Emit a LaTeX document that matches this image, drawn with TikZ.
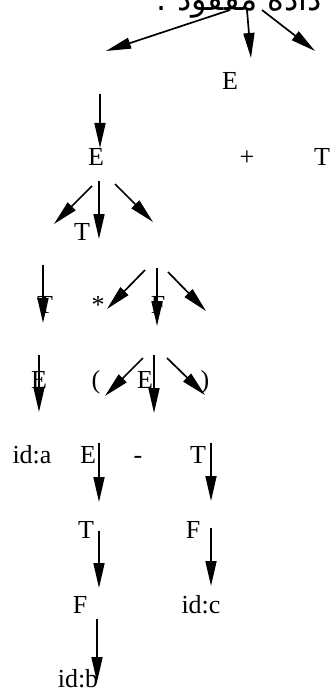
\documentclass[tikz,border=0pt]{standalone}
\usepackage{fontspec}
\setmainfont{Liberation Serif}
\newfontfamily\arabicfont[Script=Arabic]{DejaVu Sans}
\TeXXeTstate=1
\usetikzlibrary{arrows.meta}
\begin{document}
\begin{tikzpicture}[x=1pt,y=-1pt,
  lbl/.style={font=\fontsize{26}{30}\selectfont, inner sep=0pt, anchor=base},
  arr/.style={-{Triangle[length=25pt,width=11pt]}, line width=1.7pt}]
\useasboundingbox (0,0) rectangle (329,690);
% title (cut at the top)
\node[inner sep=0pt, anchor=base east, font=\fontsize{32}{36}\selectfont\arabicfont] (title) at (322,11) {\beginR داده مفقود .\endR};
% row 1
\node[lbl] (E1) at (230,90) {E};
% row 2
\node[lbl] (E2) at (96,165) {E};
\node[lbl] (plus) at (247,165) {+};
\node[lbl] (T1) at (322,165) {T};
% row 3
\node[lbl] (T2) at (82,240) {T};
% row 4
\node[lbl] (T3) at (45,313) {T};
\node[lbl] (star) at (98,313) {*};
\node[lbl] (F1) at (158,313) {F};
% row 5
\node[lbl] (E3) at (39,388) {E};
\node[lbl] (lp) at (96,388) {(};
\node[lbl] (E4) at (145,388) {E};
\node[lbl] (rp) at (205,388) {)};
% row 6
\node[lbl] (ida) at (32,463) {id:a};
\node[lbl] (E5) at (88,463) {E};
\node[lbl] (minus) at (138,463) {-};
\node[lbl] (T4) at (198,463) {T};
% row 7
\node[lbl] (T5) at (86,538) {T};
\node[lbl] (F2) at (193,538) {F};
% row 8
\node[lbl] (F3) at (80,613) {F};
\node[lbl] (idc) at (201,613) {id:c};
% row 9
\node[lbl] (idb) at (78,687) {id:b};
% connector end points
\coordinate (s1) at (230,10);  \coordinate (e1) at (106,51);
\coordinate (s2) at (247,10);  \coordinate (e2) at (251,58);
\coordinate (s3) at (262,10);  \coordinate (e3) at (315,51);
\coordinate (s4) at (100,94);  \coordinate (e4) at (100,148);
\coordinate (s5) at (92,186);  \coordinate (e5) at (54,224);
\coordinate (s6) at (99,181);  \coordinate (e6) at (99,239);
\coordinate (s7) at (115,184); \coordinate (e7) at (153,222);
\coordinate (s8) at (43,265);  \coordinate (e8) at (43,323);
\coordinate (s9) at (145,270); \coordinate (e9) at (107,309);
\coordinate (s10) at (157,268); \coordinate (e10) at (157,326);
\coordinate (s11) at (168,272); \coordinate (e11) at (206,311);
\coordinate (s12) at (39,355);  \coordinate (e12) at (39,412);
\coordinate (s13) at (143,358); \coordinate (e13) at (105,396);
\coordinate (s14) at (154,355); \coordinate (e14) at (154,413);
\coordinate (s15) at (167,358); \coordinate (e15) at (205,395);
\coordinate (s16) at (99,443);  \coordinate (e16) at (99,502);
\coordinate (s17) at (211,443); \coordinate (e17) at (211,501);
\coordinate (s18) at (99,531);  \coordinate (e18) at (99,588);
\coordinate (s19) at (211,528); \coordinate (e19) at (211,586);
\coordinate (s20) at (97,619);  \coordinate (e20) at (97,682);
\foreach \i in {1,...,20} {\draw[arr] (s\i) -- (e\i);}
\end{tikzpicture}
\end{document}
